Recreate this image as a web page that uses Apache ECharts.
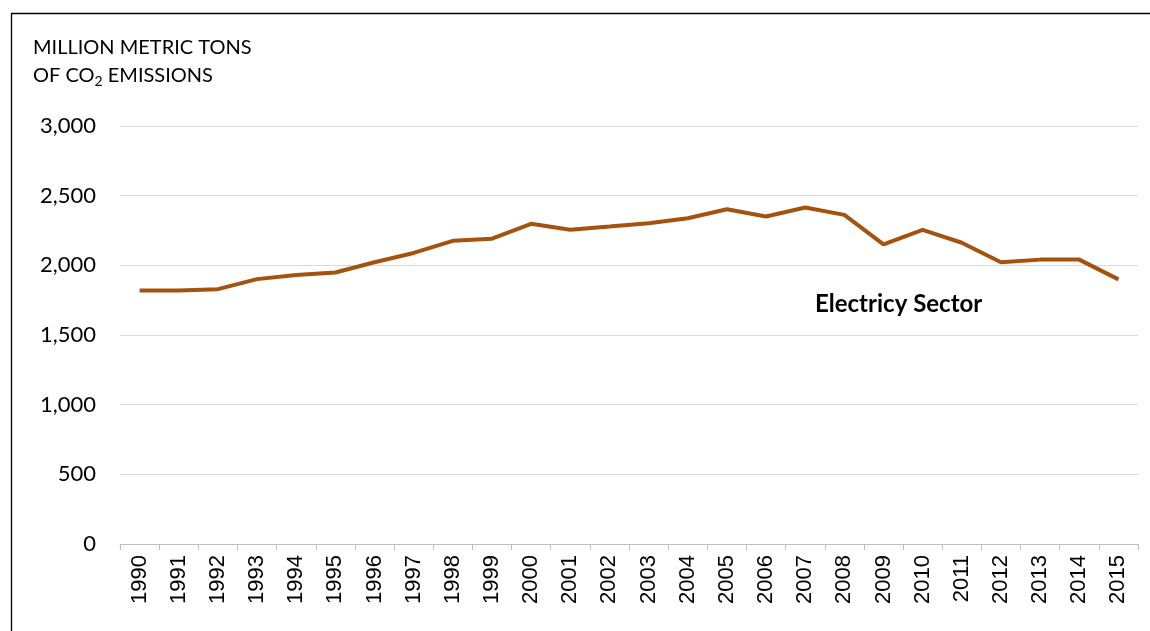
<!DOCTYPE html>
<html>
<head>
<meta charset="utf-8">
<script src="https://cdn.jsdelivr.net/npm/echarts@6/dist/echarts.min.js"></script>
<style>html,body{margin:0;padding:0;background:#fff}#c{width:1150px;height:631px}</style>
</head>
<body>
<div id="c"></div>
<script>
var years = ['1990','1991','1992','1993','1994','1995','1996','1997','1998','1999','2000','2001','2002','2003','2004','2005','2006','2007','2008','2009','2010','2011','2012','2013','2014','2015'];
var electricity = [1819,1820,1829,1901,1931,1949,2022,2089,2176,2191,2298,2256,2278,2302,2338,2403,2350,2415,2362,2150,2254,2162,2022,2041,2041,1899];
var yTicks = {min: 0, max: 3000, interval: 500};
var seriesLabel = 'Electricy Sector';

var chart = echarts.init(document.getElementById('c'), null, {renderer: 'canvas'});
chart.setOption({
  animation: false,
  backgroundColor: '#ffffff',
  grid: {left: 120, right: 12, top: 126, bottom: 87},
  xAxis: {
    type: 'category',
    data: years,
    boundaryGap: true,
    axisLine: {lineStyle: {color: '#bfbfbf', width: 1}},
    axisTick: {show: true, alignWithLabel: false, length: 6, lineStyle: {color: '#bfbfbf'}},
    axisLabel: {rotate: 90, margin: 11, color: '#000', fontFamily: 'Liberation Sans', fontSize: 22, interval: 0}
  },
  yAxis: {
    type: 'value',
    min: yTicks.min, max: yTicks.max, interval: yTicks.interval,
    axisLine: {show: false},
    axisTick: {show: false},
    splitLine: {lineStyle: {color: '#d9d9d9', width: 1}},
    axisLabel: {
      margin: 24, color: '#000', fontFamily: 'Lato', fontSize: 22,
      formatter: function (v) { return v.toLocaleString('en-US'); }
    }
  },
  series: [{
    type: 'line',
    name: seriesLabel,
    data: electricity,
    symbol: 'none',
    lineStyle: {color: '#a5520e', width: 4}
  }],
  graphic: [
    {type: 'rect', left: 9, top: 11, shape: {width: 1160, height: 640},
     style: {fill: 'none', stroke: '#000', lineWidth: 1.3}, silent: true, z: 100},
    {type: 'text', left: 33, top: 38,
     style: {text: 'MILLION METRIC TONS', font: '20px Lato', fill: '#000'}},
    {type: 'text', left: 33, top: 66,
     style: {text: '{a|OF CO}{s|2}{a| EMISSIONS}', rich: {a: {font: '20px Lato', fill: '#000'}, s: {font: '14px Lato', fill: '#000', padding: [10, 0, 0, 0]}}}},
    {type: 'text', left: 815, top: 292,
     style: {text: seriesLabel, font: 'bold 24px Lato', fill: '#000'}}
  ]
});
</script>
</body>
</html>
